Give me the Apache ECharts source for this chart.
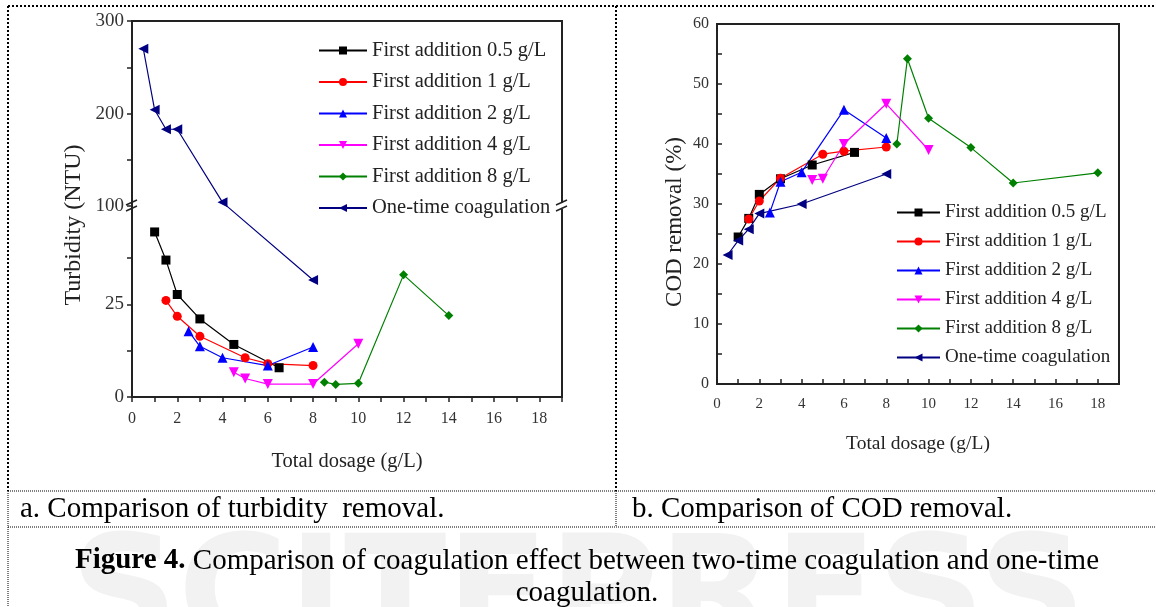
<!DOCTYPE html>
<html>
<head>
<meta charset="utf-8">
<title>Figure 4</title>
<script src="https://cdn.jsdelivr.net/npm/echarts@6.0.0/dist/echarts.min.js"></script>
<style>
html, body { margin: 0; padding: 0; background: #fff; }
#main { width: 1156px; height: 607px; }
</style>
</head>
<body>
<div id="main"></div>
<script>
// legend names (same for both panels)
var names = ['First addition 0.5 g/L', 'First addition 1 g/L', 'First addition 2 g/L',
             'First addition 4 g/L', 'First addition 8 g/L', 'One-time coagulation'];

// a. turbidity (NTU) vs total dosage (g/L)
var turbX05 = [1, 1.5, 2, 3, 4.5, 6.5];
var turbY05 = [44.6, 37.0, 27.7, 21.1, 14.2, 7.9];
var turbX1 = [1.5, 2, 3, 5, 6, 8];
var turbY1 = [26.1, 21.8, 16.4, 10.6, 9.0, 8.5];
var turbX2 = [2.5, 3, 4, 6, 8];
var turbY2 = [17.8, 13.7, 10.6, 8.5, 13.5];
var turbX4 = [4.5, 5, 6, 8, 10];
var turbY4 = [6.7, 5.0, 3.5, 3.5, 14.4];
var turbX8 = [8.5, 9, 10, 12, 14];
var turbY8 = [4.0, 3.4, 3.7, 33.0, 22.0];
var turbXone = [0.5, 1, 1.5, 2, 4, 8];
var turbYone = [270, 204, 183, 183, 104, 31.6];

// b. COD removal (%) vs total dosage (g/L)
var codX05 = [1, 1.5, 2, 3, 4.5, 6.5];
var codY05 = [24.5, 27.6, 31.6, 34.2, 36.5, 38.6];
var codX1 = [1.5, 2, 3, 5, 6, 8];
var codY1 = [27.5, 30.5, 34.3, 38.3, 38.8, 39.5];
var codX2 = [2.5, 3, 4, 6, 8];
var codY2 = [28.6, 33.7, 35.3, 45.7, 41.0];
var codX4 = [4.5, 5, 6, 8, 10];
var codY4 = [34.0, 34.2, 40.0, 46.7, 39.0];
var codX8 = [8.5, 9, 10, 12, 14, 18];
var codY8 = [40.0, 54.2, 44.3, 39.4, 33.5, 35.2];
var codXone = [0.5, 1, 1.5, 2, 4, 8];
var codYone = [21.5, 23.9, 25.8, 28.4, 30.0, 35.0];

// axis ticks / labels
var xTicks = [0, 1, 2, 3, 4, 5, 6, 7, 8, 9, 10, 11, 12, 13, 14, 15, 16, 17, 18, 19];
var xLabels = [0, 2, 4, 6, 8, 10, 12, 14, 16, 18];
var turbLabels = [0, 25, 100, 200, 300];
var turbTicks = [0, 12.5, 25, 37.5, 100, 150, 200, 250, 300];
var codTicks = [0, 5, 10, 15, 20, 25, 30, 35, 40, 45, 50, 55, 60];

var colors = ['#000000', '#ff0000', '#0000ff', '#ff00ff', '#008000', '#000080'];
var symbols = ['rect', 'circle', 'triangle', 'triangle', 'diamond', 'triangle'];
var rotates = [0, 0, 0, 180, 0, 90];

// broken y axis of panel a: 0..51.6 at full scale, 100..300 squeezed 4x above it
var BREAK_LOW = 51.6;
var BREAK_HIGH = 100;
var SQUEEZE = 4;
function brk(v) { return v <= BREAK_LOW ? v : BREAK_LOW + (v - BREAK_HIGH) / SQUEEZE; }
function unbrk(t) { return t < BREAK_LOW - 1e-6 ? t : BREAK_HIGH + (t - BREAK_LOW) * SQUEEZE; }

var FONT = 'Liberation Serif';
var gridA = { left: 132, top: 21, width: 430, height: 376 };
var gridB = { left: 717, top: 24, width: 402, height: 360 };

function mkLine(i, xs, ys, gi, tf) {
    return {
        name: names[i], type: 'line', xAxisIndex: gi, yAxisIndex: gi,
        data: xs.map(function (x, k) { return [x, tf ? tf(ys[k]) : ys[k]]; }),
        symbol: symbols[i], symbolSize: i == 2 || i == 3 || i == 5 ? 10 : 9,
        symbolRotate: rotates[i],
        lineStyle: { color: colors[i], width: 1.2 },
        itemStyle: { color: colors[i] },
        z: 3
    };
}

function xAx(gi, inside, margin, nameGap, size, nameSize) {
    return {
        gridIndex: gi, type: 'value', min: 0, max: 19,
        axisLine: { show: true, onZero: false, lineStyle: { color: '#222', width: 2 } },
        axisTick: { show: true, inside: inside, length: 5, customValues: xTicks, lineStyle: { color: '#222', width: 1.5 } },
        axisLabel: { customValues: xLabels, color: '#333', fontFamily: FONT, fontSize: size, margin: margin },
        splitLine: { show: false },
        name: 'Total dosage (g/L)', nameLocation: 'middle', nameGap: nameGap,
        nameTextStyle: { color: '#222', fontFamily: FONT, fontSize: nameSize }
    };
}

var chartDom = document.getElementById('main');
var myChart = echarts.init(chartDom);

var yTop = gridA.top + gridA.height * (1 - BREAK_LOW / brk(300));

function breakMark(x) {
    return {
        type: 'group', x: x, y: yTop, z: 100,
        children: [
            { type: 'rect', shape: { x: -4, y: -3, width: 8, height: 6 }, style: { fill: '#fff' } },
            { type: 'line', shape: { x1: -6, y1: -1, x2: 5, y2: -6 }, style: { stroke: '#222', lineWidth: 1.5 } },
            { type: 'line', shape: { x1: -6, y1: 5, x2: 5, y2: 0 }, style: { stroke: '#222', lineWidth: 1.5 } }
        ]
    };
}

function dotted(x1, y1, x2, y2, w) {
    return {
        type: 'line', shape: { x1: x1, y1: y1, x2: x2, y2: y2 }, z: 50,
        style: { stroke: '#000', lineWidth: w, lineDash: [w, w] }
    };
}

function vTitle(text, x, y, size) {
    return {
        type: 'text', x: x, y: y, rotation: Math.PI / 2, z: 60,
        style: { text: text, fontFamily: FONT, fontSize: size, fill: '#222', align: 'center', verticalAlign: 'middle' }
    };
}

var option = {
    animation: false,
    backgroundColor: '#fff',
    grid: [
        Object.assign({ show: true, borderColor: '#222', borderWidth: 2 }, gridA),
        Object.assign({ show: true, borderColor: '#222', borderWidth: 2 }, gridB)
    ],
    legend: [
        {
            data: names, orient: 'vertical', left: 313, top: 35,
            itemWidth: 48, itemHeight: 10, itemGap: 10.5,
            lineStyle: { width: 2 },
            textStyle: { fontFamily: FONT, fontSize: 20.5, color: '#222' }
        },
        {
            data: names, orient: 'vertical', left: 891, top: 198,
            itemWidth: 43, itemHeight: 10, itemGap: 10,
            lineStyle: { width: 2 },
            textStyle: { fontFamily: FONT, fontSize: 19, color: '#222' }
        }
    ],
    xAxis: [xAx(0, false, 14, 54, 16, 20.5), xAx(1, true, 13, 50, 15, 19.5)],
    yAxis: [
        {
            gridIndex: 0, type: 'value', min: 0, max: brk(300),
            axisLine: { show: true, lineStyle: { color: '#222', width: 2 } },
            axisTick: { show: true, inside: false, length: 5, customValues: turbTicks.map(brk), lineStyle: { color: '#222', width: 1.5 } },
            axisLabel: {
                customValues: turbLabels.map(brk), color: '#333', fontFamily: FONT, fontSize: 19, margin: 8,
                formatter: function (v) { return Math.round(unbrk(v)); }
            },
            splitLine: { show: false }
        },
        {
            gridIndex: 1, type: 'value', min: 0, max: 60, interval: 10,
            axisLine: { show: true, lineStyle: { color: '#222', width: 2 } },
            axisTick: { show: true, inside: true, length: 5, customValues: codTicks, lineStyle: { color: '#222', width: 1.5 } },
            axisLabel: { color: '#333', fontFamily: FONT, fontSize: 16, margin: 8 },
            splitLine: { show: false }
        }
    ],
    series: [
        mkLine(0, turbX05, turbY05, 0, brk),
        mkLine(1, turbX1, turbY1, 0, brk),
        mkLine(2, turbX2, turbY2, 0, brk),
        mkLine(3, turbX4, turbY4, 0, brk),
        mkLine(4, turbX8, turbY8, 0, brk),
        mkLine(5, turbXone, turbYone, 0, brk),
        mkLine(0, codX05, codY05, 1),
        mkLine(1, codX1, codY1, 1),
        mkLine(2, codX2, codY2, 1),
        mkLine(3, codX4, codY4, 1),
        mkLine(4, codX8, codY8, 1),
        mkLine(5, codXone, codYone, 1)
    ],
    graphic: [
        // faint watermark
        { type: 'text', left: 'center', top: 528, z: -10, silent: true,
          style: { text: 'SCITEPRESS', font: 'bold 150px "DejaVu Sans"', fill: '#f2f2f2' } },
        // axis titles (rotated)
        vTitle('Turbidity (NTU)', 74, 225, 24),
        vTitle('COD removal (%)', 675, 222, 23),
        // table borders
        dotted(8, 6, 1156, 6, 2),
        dotted(8, 6, 8, 491, 2),
        dotted(616, 6, 616, 491, 2),
        dotted(8, 491, 8, 607, 1),
        dotted(616, 491, 616, 527, 1),
        dotted(8, 491, 1156, 491, 1),
        dotted(8, 527, 1156, 527, 1),
        // captions
        { type: 'text', x: 20, y: 509, z: 60,
          style: { text: 'a. Comparison of turbidity  removal.', fontFamily: FONT, fontSize: 29, fill: '#000', verticalAlign: 'middle' } },
        { type: 'text', x: 632, y: 509, z: 60,
          style: { text: 'b. Comparison of COD removal.', fontFamily: FONT, fontSize: 29, fill: '#000', verticalAlign: 'middle' } },
        { type: 'text', x: 587, y: 577, z: 60,
          style: {
              text: '{b|Figure 4.} Comparison of coagulation effect between two-time coagulation and one-time\ncoagulation.',
              fontFamily: FONT, fontSize: 29, fill: '#000', align: 'center', verticalAlign: 'middle', lineHeight: 32,
              rich: { b: { fontWeight: 'bold', fontFamily: FONT, fontSize: 29, fill: '#000', lineHeight: 32 } }
          } },
        breakMark(gridA.left),
        breakMark(gridA.left + gridA.width)
    ]
};

myChart.setOption(option);
</script>
</body>
</html>
